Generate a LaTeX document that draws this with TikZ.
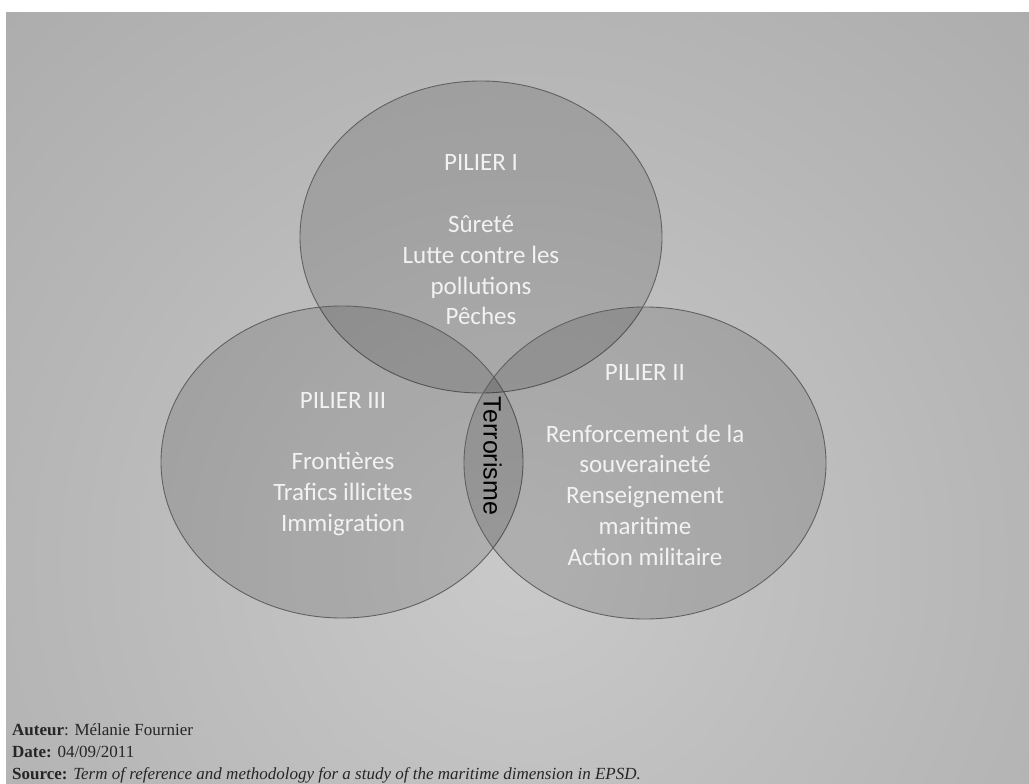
\documentclass[tikz,border=0pt]{standalone}
\usepackage{fontspec}
\setmainfont{Liberation Serif}
\newfontfamily\calib{Carlito}
\newfontfamily\arialf{Liberation Sans}
\usetikzlibrary{shapes.geometric}
\definecolor{bgA}{gray}{0.79}
\definecolor{bgB}{gray}{0.72}
\definecolor{bgC}{gray}{0.63}
\definecolor{bgD}{gray}{0.55}
\definecolor{pilltxt}{gray}{0.95}
\definecolor{foottxt}{gray}{0.15}
\pgfdeclareradialshading{bgshade}{\pgfpoint{0bp}{0bp}}{color(0bp)=(bgA); color(15bp)=(bgB); color(36bp)=(bgC); color(50bp)=(bgD)}
\begin{document}
\begin{tikzpicture}[x=1bp,y=-1bp,
  pillar/.style={ellipse, draw=black!62, line width=0.9bp, fill=black, fill opacity=0.13,
    minimum width=362bp, minimum height=312bp, inner sep=0pt},
  pilltext/.style={text=pilltxt, font=\calib\fontsize{25bp}{30.8bp}\selectfont, align=center, inner sep=0pt},
  foot/.style={anchor=base west, inner sep=0pt, text=foottxt, font=\fontsize{17bp}{21bp}\selectfont}]
\useasboundingbox (0,0) rectangle (1029,784);
\fill[white] (0,0) rectangle (1029,784);
\begin{scope}
\clip (6,13) rectangle (1029,784);
\shade[shading=bgshade] (520,560) circle (760bp);
\end{scope}
\node[pillar] (p1) at (481,237) {};
\node[pillar] (p3) at (342,462) {};
\node[pillar] (p2) at (645,463) {};
\node[pilltext] (t1) at (481,240) {PILIER I\\[30.8bp]Sûreté\\Lutte contre les\\pollutions\\Pêches};
\node[pilltext] (t3) at (343,464) {PILIER III\\[30.8bp]Frontières\\Trafics illicites\\Immigration};
\node[pilltext] (t2) at (645,465) {PILIER II\\[30.8bp]Renforcement de la\\souveraineté\\Renseignement\\maritime\\Action militaire};
\node[rotate=-90, inner sep=0pt, text=black, font=\arialf\fontsize{25bp}{30bp}\selectfont] (terr) at (492.5,456) {Terrorisme};
\node[foot] (aut) at (12,735) {\textbf{Auteur}: Mélanie Fournier};
\node[foot] (dat) at (12,757) {\textbf{Date:} 04/09/2011};
\node[foot] (src) at (12,779) {\textbf{Source:} \textit{Term of reference and methodology for a study of the maritime dimension in EPSD.}};
\end{tikzpicture}
\end{document}
